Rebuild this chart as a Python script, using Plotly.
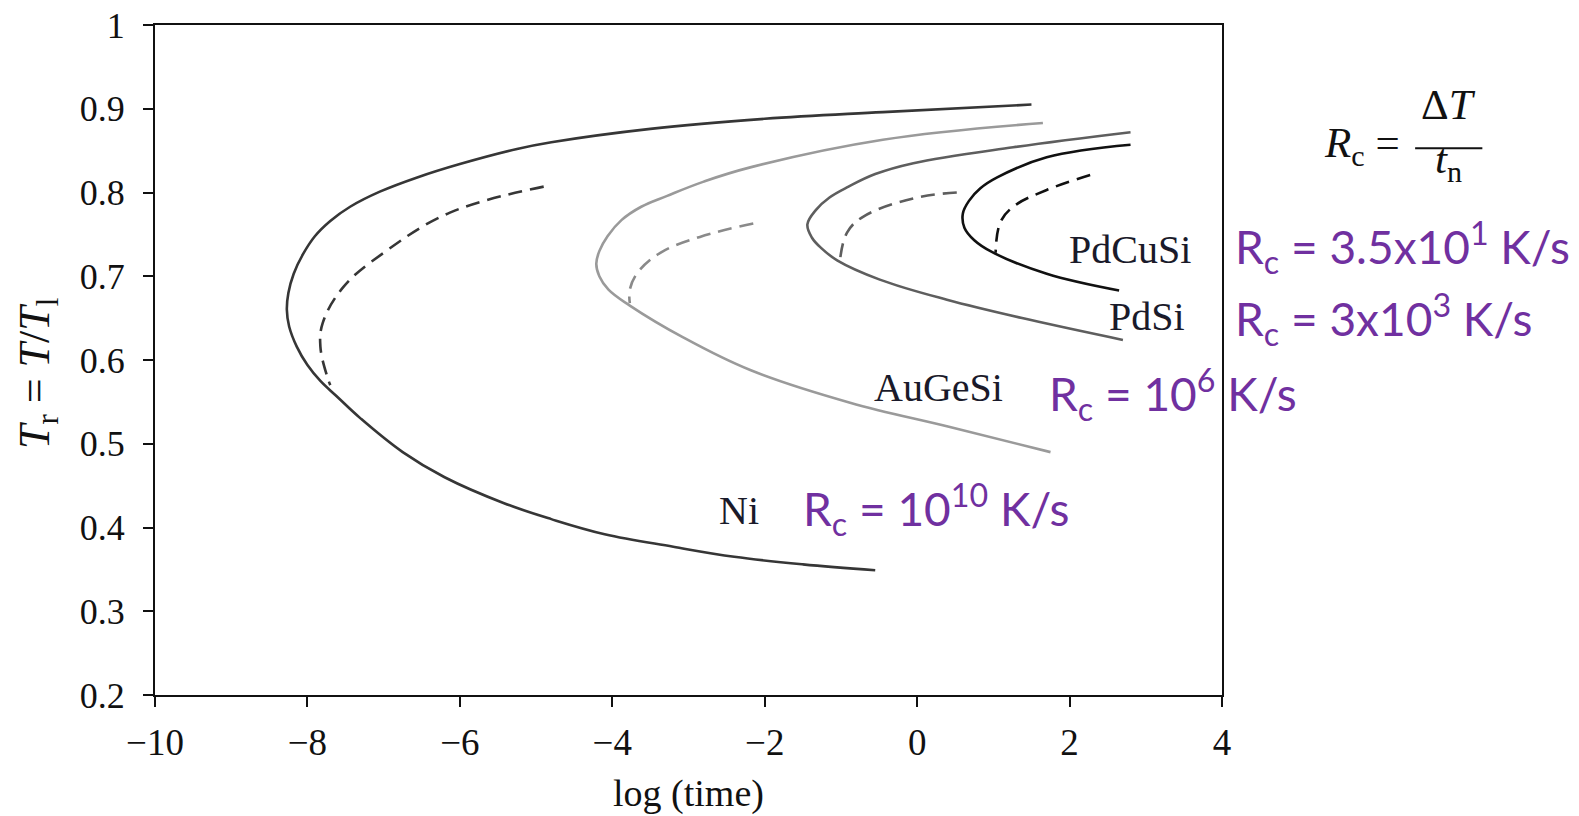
import plotly.graph_objects as go

# ---- data ----
ni_x = [1.5, -0.45, -2.0, -3.5, -4.8, -5.25, -6.0, -6.56, -7.05, -7.44, -7.7, -7.9, -8.06, -8.18, -8.25, -8.27,
        -8.24, -8.14, -8.0, -7.83, -7.62, -7.3, -6.75, -6.2, -5.42, -4.8, -4.1, -3.2, -2.4, -1.5, -0.55]
ni_y = [0.905, 0.896, 0.888, 0.876, 0.86, 0.852, 0.834, 0.818, 0.801, 0.783, 0.766, 0.748, 0.726, 0.703, 0.68, 0.66,
        0.64, 0.616, 0.594, 0.575, 0.557, 0.53, 0.49, 0.46, 0.429, 0.41, 0.392, 0.377, 0.365, 0.356, 0.349]
ni_dx = [-4.9, -6.13, -7.0, -7.53, -7.8, -7.83, -7.74, -7.7]
ni_dy = [0.807, 0.776, 0.728, 0.687, 0.644, 0.616, 0.58, 0.57]

au_x = [1.65, -0.45, -2.19, -2.8, -3.28, -3.62, -3.88, -4.06, -4.17, -4.21, -4.17, -4.05, -3.77, -3.07, -2.19, -0.88, 0.43, 1.75]
au_y = [0.883, 0.863, 0.83, 0.813, 0.796, 0.783, 0.767, 0.748, 0.73, 0.715, 0.7, 0.684, 0.665, 0.627, 0.588, 0.549, 0.52, 0.49]
au_dx = [-2.15, -2.85, -3.37, -3.67, -3.77, -3.77]
au_dy = [0.763, 0.747, 0.728, 0.704, 0.684, 0.668]

pdsi_x = [2.8, 1.26, -0.05, -0.55, -0.9, -1.15, -1.33, -1.44, -1.38, -1.25, -1.05, -0.49, 0.39, 1.48, 2.7]
pdsi_y = [0.872, 0.854, 0.835, 0.822, 0.807, 0.794, 0.779, 0.762, 0.746, 0.733, 0.719, 0.696, 0.672, 0.648, 0.624]
pdsi_dx = [0.52, -0.05, -0.71, -0.92, -1.01]
pdsi_dy = [0.80, 0.793, 0.771, 0.752, 0.721]

pdcu_x = [2.8, 1.7, 1.05, 0.83, 0.68, 0.6, 0.62, 0.75, 0.98, 1.7, 2.65]
pdcu_y = [0.857, 0.842, 0.818, 0.805, 0.79, 0.775, 0.758, 0.743, 0.729, 0.703, 0.683]
pdcu_dx = [2.27, 1.7, 1.26, 1.09, 1.03]
pdcu_dy = [0.821, 0.803, 0.783, 0.764, 0.728]

x_ticks = [-10, -8, -6, -4, -2, 0, 2, 4]
y_ticks = [0.2, 0.3, 0.4, 0.5, 0.6, 0.7, 0.8, 0.9, 1]
y_tick_text = ["0.2", "0.3", "0.4", "0.5", "0.6", "0.7", "0.8", "0.9", "1"]

alloy_labels = ["PdCuSi", "PdSi", "AuGeSi", "Ni"]
alloy_label_x = [2.79, 3.02, 0.28, -2.34]
alloy_label_y = [0.732, 0.652, 0.567, 0.42]

rate_labels = ["R<sub>c</sub> = 3.5x10<sup>1</sup> K/s", "R<sub>c</sub> = 3x10<sup>3</sup> K/s",
               "R<sub>c</sub> = 10<sup>6</sup> K/s", "R<sub>c</sub> = 10<sup>10</sup> K/s"]
rate_label_x = [4.15, 4.15, 1.71, -1.53]
rate_label_y = [0.735, 0.649, 0.56, 0.422]

SERIF = "Liberation Serif"
PURPLE = "#7030A0"
X_MIN, X_MAX = -10, 4

fig = go.Figure()

def add(x, y, color, dash=None):
    fig.add_trace(go.Scatter(
        x=x, y=y, mode="lines", line_shape="spline",
        line=dict(color=color, width=2.6, dash=dash, smoothing=1.1),
        showlegend=False, hoverinfo="skip"))

add(ni_x, ni_y, "#363636")
add(ni_dx, ni_dy, "#363636", "14px,8px")
add(au_x, au_y, "#9a9a9a")
add(au_dx, au_dy, "#8a8a8a", "14px,8px")
add(pdsi_x, pdsi_y, "#5e5e5e")
add(pdsi_dx, pdsi_dy, "#5e5e5e", "14px,8px")
add(pdcu_x, pdcu_y, "#111111")
add(pdcu_dx, pdcu_dy, "#111111", "14px,8px")

for t, x, y in zip(alloy_labels, alloy_label_x, alloy_label_y):
    fig.add_annotation(x=x, y=y, text=t, showarrow=False, xanchor="center", yanchor="middle",
                       font=dict(family=SERIF, size=40, color="#1a1a2a"))

for t, x, y in zip(rate_labels, rate_label_x, rate_label_y):
    fig.add_annotation(xref="paper", yref="y", x=(x - X_MIN) / (X_MAX - X_MIN), y=y, text=t,
                       showarrow=False, xanchor="left", yanchor="middle",
                       font=dict(family="Lato", size=46, color=PURPLE))

# formula R_c = ΔT / t_n
fig.add_annotation(xref="paper", yref="paper", x=1.169, y=0.82, text="<i>R</i><sub>c</sub> =",
                   showarrow=False, xanchor="right", yanchor="middle",
                   font=dict(family=SERIF, size=43, color="#111"))
fig.add_annotation(xref="paper", yref="paper", x=1.212, y=0.882, text="Δ<i>T</i>",
                   showarrow=False, xanchor="center", yanchor="middle",
                   font=dict(family=SERIF, size=43, color="#111"))
fig.add_annotation(xref="paper", yref="paper", x=1.212, y=0.795, text="<i>t</i><sub>n</sub>",
                   showarrow=False, xanchor="center", yanchor="middle",
                   font=dict(family=SERIF, size=43, color="#111"))
fig.add_shape(type="line", xref="paper", yref="paper", x0=1.181, x1=1.244, y0=0.816, y1=0.816,
              line=dict(color="#111", width=2))

# y-axis title (rotated text, slightly below the plot centre as in the reference)
fig.add_annotation(xref="paper", yref="paper", x=-0.11, y=0.48, textangle=-90,
                   text="<i>T</i><sub>r</sub> = <i>T</i>/<i>T</i><sub>l</sub>",
                   showarrow=False, xanchor="center", yanchor="middle",
                   font=dict(family=SERIF, size=44, color="#111"))

fig.update_xaxes(range=[X_MIN, X_MAX], tickvals=x_ticks, ticks="outside", ticklen=10, tickwidth=2,
                 tickcolor="#111", showline=True, linecolor="#111", linewidth=2, mirror=True,
                 showgrid=False, zeroline=False, ticklabelstandoff=4,
                 tickfont=dict(family=SERIF, size=37, color="#111"),
                 title=dict(text="log (time)", font=dict(family=SERIF, size=38, color="#111"), standoff=17))
fig.update_yaxes(range=[0.2, 1], tickvals=y_ticks, ticktext=y_tick_text, ticks="outside", ticklen=10,
                 tickwidth=2, tickcolor="#111", showline=True, linecolor="#111", linewidth=2, mirror=True,
                 showgrid=False, zeroline=False, ticklabelstandoff=11, ticklabeloverflow="allow",
                 tickfont=dict(family=SERIF, size=36, color="#111"))

fig.update_layout(width=1579, height=816, margin=dict(l=155, r=357, t=25, b=121, autoexpand=False),
                  plot_bgcolor="white", paper_bgcolor="white")

fig.write_html("out.html", config={"displayModeBar": False},
               post_script="document.body.style.margin='0';")
